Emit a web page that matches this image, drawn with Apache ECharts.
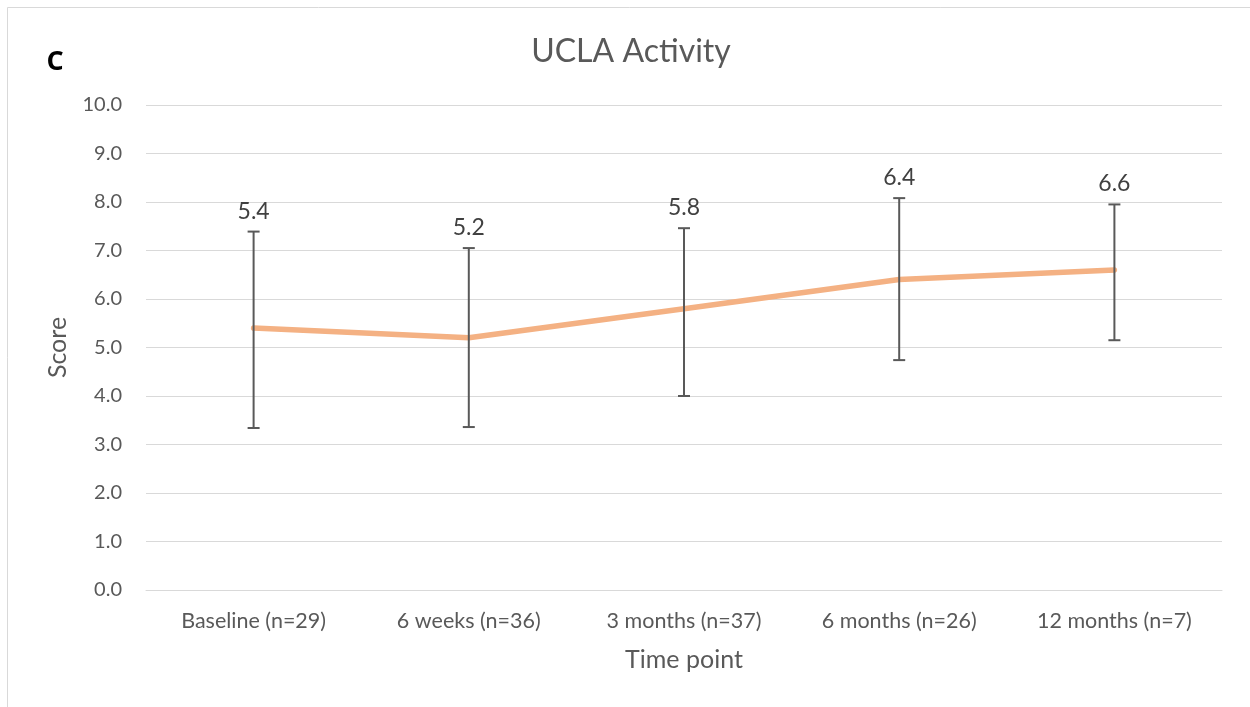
<!DOCTYPE html>
<html>
<head>
<meta charset="utf-8">
<script src="https://cdn.jsdelivr.net/npm/echarts@6/dist/echarts.min.js"></script>
<style>
  html, body { margin: 0; padding: 0; background: #fff; }
  #chart { width: 1250px; height: 707px; }
</style>
</head>
<body>
<div id="chart"></div>
<script>
// Time points and mean UCLA activity scores
const categories = ['Baseline (n=29)', '6 weeks (n=36)', '3 months (n=37)', '6 months (n=26)', '12 months (n=7)'];
const means = [5.4, 5.2, 5.8, 6.4, 6.6];
// Error bar ends (lower / upper) per time point
const errLow = [3.34, 3.36, 4.0, 4.74, 5.15];
const errHigh = [7.39, 7.05, 7.46, 8.08, 7.95];
const yTicks = [0, 1, 2, 3, 4, 5, 6, 7, 8, 9, 10];

const FONT = 'Lato, "Open Sans", sans-serif';
const chart = echarts.init(document.getElementById('chart'), null, { renderer: 'canvas' });

const errData = categories.map((c, i) => [i, errLow[i], errHigh[i], means[i]]);

chart.setOption({
  animation: false,
  backgroundColor: '#ffffff',
  title: {
    text: 'UCLA Activity',
    left: 626, top: 31, textAlign: 'center',
    textStyle: { fontFamily: FONT, fontSize: 32, fontWeight: 'normal', color: '#595959' }
  },
  graphic: [
    { type: 'rect', shape: { x: 7.5, y: 7.5, width: 1300, height: 800 },
      style: { fill: 'none', stroke: '#d9d9d9', lineWidth: 1 }, silent: true },
    { type: 'text', x: 55, y: 62,
      style: { text: 'C', font: 'bold 27px "Open Sans", sans-serif', fill: '#000',
               align: 'center', verticalAlign: 'middle' } }
  ],
  grid: { left: 146, right: 28, top: 105, bottom: 117, containLabel: false },
  xAxis: {
    type: 'category',
    data: categories,
    name: 'Time point',
    nameLocation: 'middle',
    nameGap: 57,
    nameTextStyle: { fontFamily: FONT, fontSize: 25, color: '#595959' },
    axisLine: { lineStyle: { color: '#d9d9d9', width: 1 } },
    axisTick: { show: false },
    axisLabel: { fontFamily: FONT, fontSize: 21.5, color: '#595959', margin: 20 }
  },
  yAxis: {
    type: 'value',
    min: 0, max: 10, interval: 1,
    name: 'Score',
    nameLocation: 'middle',
    nameGap: 76,
    nameTextStyle: { fontFamily: FONT, fontSize: 25, color: '#595959' },
    axisLine: { show: false },
    axisTick: { show: false },
    splitLine: { lineStyle: { color: '#d9d9d9', width: 1 } },
    axisLabel: {
      fontFamily: FONT, fontSize: 20, color: '#595959', margin: 24,
      formatter: v => yTicks.includes(v) ? v.toFixed(1) : ''
    }
  },
  series: [
    {
      type: 'line',
      data: means,
      symbol: 'none',
      lineStyle: { color: '#F4B183', width: 5.5, cap: 'round', join: 'round' },
      z: 3
    },
    {
      type: 'custom',
      data: errData,
      z: 4,
      renderItem: function (params, api) {
        const x = api.value(0);
        const lo = api.coord([x, api.value(1)]);
        const hi = api.coord([x, api.value(2)]);
        const cap = 6;
        const st = { stroke: '#595959', lineWidth: 2 };
        return {
          type: 'group',
          children: [
            { type: 'line', shape: { x1: lo[0], y1: lo[1], x2: hi[0], y2: hi[1] }, style: st },
            { type: 'line', shape: { x1: lo[0] - cap, y1: lo[1], x2: lo[0] + cap, y2: lo[1] }, style: st },
            { type: 'line', shape: { x1: hi[0] - cap, y1: hi[1], x2: hi[0] + cap, y2: hi[1] }, style: st },
            { type: 'text', x: hi[0], y: hi[1] - 9,
              style: { text: api.value(3).toFixed(1), font: '23px ' + FONT, fill: '#404040',
                       align: 'center', verticalAlign: 'bottom' } }
          ]
        };
      }
    }
  ]
});
</script>
</body>
</html>
